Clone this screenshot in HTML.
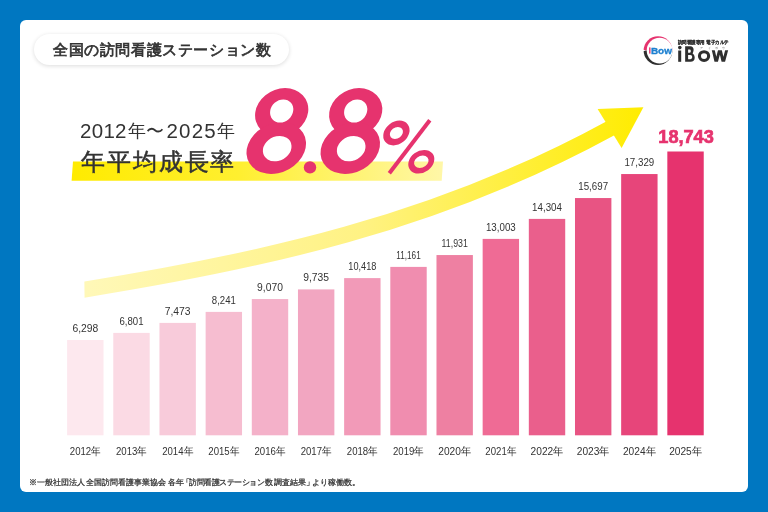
<!DOCTYPE html>
<html lang="ja"><head><meta charset="utf-8">
<style>
html,body{margin:0;padding:0;}
body{width:768px;height:512px;overflow:hidden;background:#0077C1;font-family:"Liberation Sans",sans-serif;position:relative;}
.card{position:absolute;left:20px;top:20px;width:728px;height:472px;background:#fff;border-radius:6px;}
.pill{position:absolute;left:34px;top:34px;width:255px;height:31px;border-radius:16px;background:#fff;box-shadow:0 1px 4px rgba(0,0,0,0.14);}
.pill span{position:absolute;left:19px;top:6.8px;font-size:15px;color:#333;letter-spacing:0.6px;-webkit-text-stroke:0.7px #333;white-space:nowrap;line-height:17px;}
svg{position:absolute;left:0;top:0;}
.vl{font-size:11px;fill:#333;text-anchor:middle;}
.vb{font-size:17.6px;font-weight:bold;fill:#E6336E;stroke:#E6336E;stroke-width:0.7px;}
.yl{font-size:11px;fill:#333;text-anchor:middle;}
.h1{position:absolute;left:80px;top:119px;font-size:20.5px;color:#333;white-space:nowrap;line-height:24px;letter-spacing:0.3px;}
.h1 span{position:absolute;top:0;}
.h2{position:absolute;left:81px;top:148px;font-size:24.1px;color:#333;white-space:nowrap;line-height:28px;letter-spacing:1.9px;-webkit-text-stroke:0.5px #333;}
.k{font-size:18px;}
.fn{position:absolute;left:20px;top:477.5px;font-size:7.7px;color:#333;white-space:nowrap;line-height:10px;-webkit-text-stroke:0.25px #333;}
.fn span{position:absolute;top:0;}
.wrap{position:absolute;left:0;top:0;width:768px;height:512px;opacity:0.999;}
</style></head><body>
<div class="wrap">
<div class="card"></div>
<div class="pill"><span>全国の訪問看護ステーション数</span></div>
<svg width="768" height="512" viewBox="0 0 768 512">
<defs>
<linearGradient id="hg" x1="72" y1="0" x2="443" y2="0" gradientUnits="userSpaceOnUse">
<stop offset="0" stop-color="#FFEB00"/><stop offset="0.45" stop-color="#FFEF30"/><stop offset="1" stop-color="#FFF7A8"/>
</linearGradient>
<linearGradient id="ag" x1="85" y1="0" x2="643" y2="0" gradientUnits="userSpaceOnUse">
<stop offset="0" stop-color="#FFF8B8"/><stop offset="0.5" stop-color="#FFF283"/><stop offset="1" stop-color="#FFEC00"/>
</linearGradient>
</defs>
<polygon points="73,161.5 443,161.5 441.7,180.8 71.6,180.8" fill="url(#hg)"/>
<clipPath id="tailc"><polygon points="83.6,250 700,0 700,400 85.9,400 84.2,270"/></clipPath>
<path d="M 78 290.6 C 258.0 262.0 435.5 224.0 611.0 127.9" fill="none" stroke="url(#ag)" stroke-width="16" clip-path="url(#tailc)"/>
<polygon points="597.6,109.1 643.4,107.3 621.6,148.1" fill="url(#ag)"/>
<rect x="67.12" y="340.00" width="36.4" height="95.30" fill="#FDE8EE"/><rect x="113.29" y="332.90" width="36.4" height="102.40" fill="#FBDAE4"/><rect x="159.46" y="322.90" width="36.4" height="112.40" fill="#F8CBDA"/><rect x="205.63" y="311.90" width="36.4" height="123.40" fill="#F6BDD0"/><rect x="251.80" y="299.05" width="36.4" height="136.25" fill="#F4B1C9"/><rect x="297.97" y="289.40" width="36.4" height="145.90" fill="#F2A6C1"/><rect x="344.14" y="278.10" width="36.4" height="157.20" fill="#F29AB8"/><rect x="390.31" y="266.90" width="36.4" height="168.40" fill="#F08DAF"/><rect x="436.48" y="255.05" width="36.4" height="180.25" fill="#EE80A2"/><rect x="482.65" y="238.90" width="36.4" height="196.40" fill="#EF6B95"/><rect x="528.82" y="218.90" width="36.4" height="216.40" fill="#EA5F8C"/><rect x="574.99" y="198.05" width="36.4" height="237.25" fill="#E85483"/><rect x="621.16" y="174.05" width="36.4" height="261.25" fill="#E7457A"/><rect x="667.33" y="151.50" width="36.4" height="283.80" fill="#E6336E"/>
<text x="85.32" y="331.80" class="vl" textLength="25.8" lengthAdjust="spacingAndGlyphs">6,298</text><text x="131.49" y="324.70" class="vl" textLength="24.0" lengthAdjust="spacingAndGlyphs">6,801</text><text x="177.66" y="314.70" class="vl" textLength="25.8" lengthAdjust="spacingAndGlyphs">7,473</text><text x="223.83" y="303.70" class="vl" textLength="24.0" lengthAdjust="spacingAndGlyphs">8,241</text><text x="270.00" y="290.85" class="vl" textLength="25.8" lengthAdjust="spacingAndGlyphs">9,070</text><text x="316.17" y="281.20" class="vl" textLength="25.8" lengthAdjust="spacingAndGlyphs">9,735</text><text x="362.34" y="269.90" class="vl" textLength="28.0" lengthAdjust="spacingAndGlyphs">10,418</text><text x="408.51" y="258.70" class="vl" textLength="24.4" lengthAdjust="spacingAndGlyphs">11,161</text><text x="454.68" y="246.85" class="vl" textLength="26.2" lengthAdjust="spacingAndGlyphs">11,931</text><text x="500.85" y="230.70" class="vl" textLength="29.8" lengthAdjust="spacingAndGlyphs">13,003</text><text x="547.02" y="210.70" class="vl" textLength="29.8" lengthAdjust="spacingAndGlyphs">14,304</text><text x="593.19" y="189.85" class="vl" textLength="29.8" lengthAdjust="spacingAndGlyphs">15,697</text><text x="639.36" y="165.85" class="vl" textLength="29.8" lengthAdjust="spacingAndGlyphs">17,329</text><text x="658.3" y="142.8" class="vb" textLength="55.5" lengthAdjust="spacingAndGlyphs">18,743</text>
<text x="85.32" y="454.8" class="yl" textLength="31.0" lengthAdjust="spacingAndGlyphs">2012年</text><text x="131.49" y="454.8" class="yl" textLength="31.0" lengthAdjust="spacingAndGlyphs">2013年</text><text x="177.66" y="454.8" class="yl" textLength="31.0" lengthAdjust="spacingAndGlyphs">2014年</text><text x="223.83" y="454.8" class="yl" textLength="31.0" lengthAdjust="spacingAndGlyphs">2015年</text><text x="270.00" y="454.8" class="yl" textLength="31.0" lengthAdjust="spacingAndGlyphs">2016年</text><text x="316.17" y="454.8" class="yl" textLength="31.0" lengthAdjust="spacingAndGlyphs">2017年</text><text x="362.34" y="454.8" class="yl" textLength="31.0" lengthAdjust="spacingAndGlyphs">2018年</text><text x="408.51" y="454.8" class="yl" textLength="31.0" lengthAdjust="spacingAndGlyphs">2019年</text><text x="454.68" y="454.8" class="yl" textLength="32.8" lengthAdjust="spacingAndGlyphs">2020年</text><text x="500.85" y="454.8" class="yl" textLength="31.0" lengthAdjust="spacingAndGlyphs">2021年</text><text x="547.02" y="454.8" class="yl" textLength="32.8" lengthAdjust="spacingAndGlyphs">2022年</text><text x="593.19" y="454.8" class="yl" textLength="32.8" lengthAdjust="spacingAndGlyphs">2023年</text><text x="639.36" y="454.8" class="yl" textLength="32.8" lengthAdjust="spacingAndGlyphs">2024年</text><text x="685.53" y="454.8" class="yl" textLength="32.8" lengthAdjust="spacingAndGlyphs">2025年</text>
<g transform="translate(0,0) translate(0,150) skewX(-8) translate(0,-150)">
<ellipse cx="276.4" cy="112.3" rx="26.4" ry="24.2" fill="#E6336E"/>
<ellipse cx="276" cy="148.1" rx="29.5" ry="25.6" transform="rotate(-12 276 148.1)" fill="#E6336E"/>
<ellipse cx="276.2" cy="111" rx="11.5" ry="11.6" fill="#fff"/>
<ellipse cx="277" cy="148.6" rx="14.2" ry="12.6" transform="rotate(-12 277 148.6)" fill="#fff"/>
</g>
<g transform="translate(74,0) translate(0,150) skewX(-8) translate(0,-150)">
<ellipse cx="276.4" cy="112.3" rx="26.4" ry="24.2" fill="#E6336E"/>
<ellipse cx="276" cy="148.1" rx="29.5" ry="25.6" transform="rotate(-12 276 148.1)" fill="#E6336E"/>
<ellipse cx="276.2" cy="111" rx="11.5" ry="11.6" fill="#fff"/>
<ellipse cx="277" cy="148.6" rx="14.2" ry="12.6" transform="rotate(-12 277 148.6)" fill="#fff"/>
</g>
<ellipse cx="310" cy="167.4" rx="6.2" ry="6.2" fill="#E6336E"/>
<g fill="none" stroke="#E6336E">
<ellipse transform="translate(396.4,133) skewX(-14)" rx="9.6" ry="9.2" stroke-width="6.4"/>
<ellipse transform="translate(421.3,161.7) skewX(-14)" rx="9.9" ry="9.0" stroke-width="5.6"/>
<line x1="429.8" y1="120.2" x2="389.3" y2="173.3" stroke-width="4"/>
</g>
<!-- logo -->
<defs><clipPath id="ct"><rect x="640" y="30" width="40" height="20.6"/></clipPath>
<clipPath id="cb"><rect x="640" y="50.6" width="40" height="20"/></clipPath>
<mask id="cr"><rect x="640" y="30" width="40" height="40" fill="#fff"/><circle cx="659.6" cy="50.6" r="12.9" fill="#000"/><polygon points="642,49.6 646,50.6 642,51.6" fill="#000"/></mask></defs>
<g mask="url(#cr)">
<circle cx="658" cy="50.6" r="14.4" fill="#E6336E" clip-path="url(#ct)"/>
<circle cx="658" cy="50.6" r="14.4" fill="#2E2E2E" clip-path="url(#cb)"/>
</g>
<rect x="649.1" y="47.4" width="1.4" height="6.2" fill="#E6336E"/>
<text x="650.9" y="53.7" font-size="9.9" font-weight="bold" fill="#1E80D0" stroke="#1E80D0" stroke-width="0.35" textLength="21" lengthAdjust="spacingAndGlyphs">Bow</text>
<text x="678" y="43.8" font-size="5" font-weight="bold" fill="#333" stroke="#333" stroke-width="0.2" textLength="50.7" lengthAdjust="spacingAndGlyphs">訪問看護専用 電子カルテ</text>
<g font-size="3.2" fill="#555"><text x="700.4" y="48.7">ア</text><text x="707.6" y="48.7">イ</text><text x="714.8" y="48.7">ボ</text><text x="722" y="48.7">ウ</text></g>
<g fill="#2F2F2F">
<circle cx="679.8" cy="47.6" r="1.8"/>
<rect x="678.2" y="50.5" width="3" height="11.3"/>
<path fill-rule="evenodd" d="M685.15 46.3 L690.5 46.3 C692.3 46.3 693.6 47.7 693.6 49.6 C693.6 51.3 693 52.6 692.6 53.6 C693.9 54.4 694.7 56 694.7 57.8 C694.7 60.2 693.1 61.8 690.6 61.8 L685.15 61.8 Z M688.1 49.5 L690 49.5 C690.6 49.5 690.8 50.3 690.8 51.1 C690.8 52 690.5 52.8 689.9 52.8 L688.1 52.8 Z M688.1 55.1 L690.3 55.1 C691.5 55.1 692.2 56 692.2 57.1 C692.2 58.3 691.5 59.2 690.3 59.2 L688.1 59.2 Z"/>
</g>
<ellipse cx="704.05" cy="56.1" rx="4.6" ry="4.4" fill="none" stroke="#2F2F2F" stroke-width="3.1"/>
<defs><clipPath id="wc"><rect x="705" y="50.25" width="30" height="11.55"/></clipPath></defs>
<polyline points="712.9,48.5 716.2,62.8 719.95,48.5 723.3,62.8 727.1,48.5" fill="none" stroke="#2F2F2F" stroke-width="2.9" stroke-linejoin="miter" clip-path="url(#wc)"/>
</svg>
<div class="h1"><span style="left:0">2012</span><span class="k" style="left:47.6px">年</span><span class="k" style="left:65.5px">〜</span><span style="left:86.5px;letter-spacing:1.2px">2025</span><span class="k" style="left:137px">年</span></div>
<div class="h2">年平均成長率</div>
<div class="fn"><span style="left:8.7px">※一般社団法人</span><span style="left:66.0px">全国訪問看護事業協会</span><span style="left:147.5px">各年</span><span style="left:161.8px">「</span><span style="left:169.0px;letter-spacing:-0.45px">訪問看護ステーション数</span><span style="left:254.1px">調査結果</span><span style="left:286.2px">」</span><span style="left:291.9px">より稼働数。</span></div>
</div>
</body></html>
